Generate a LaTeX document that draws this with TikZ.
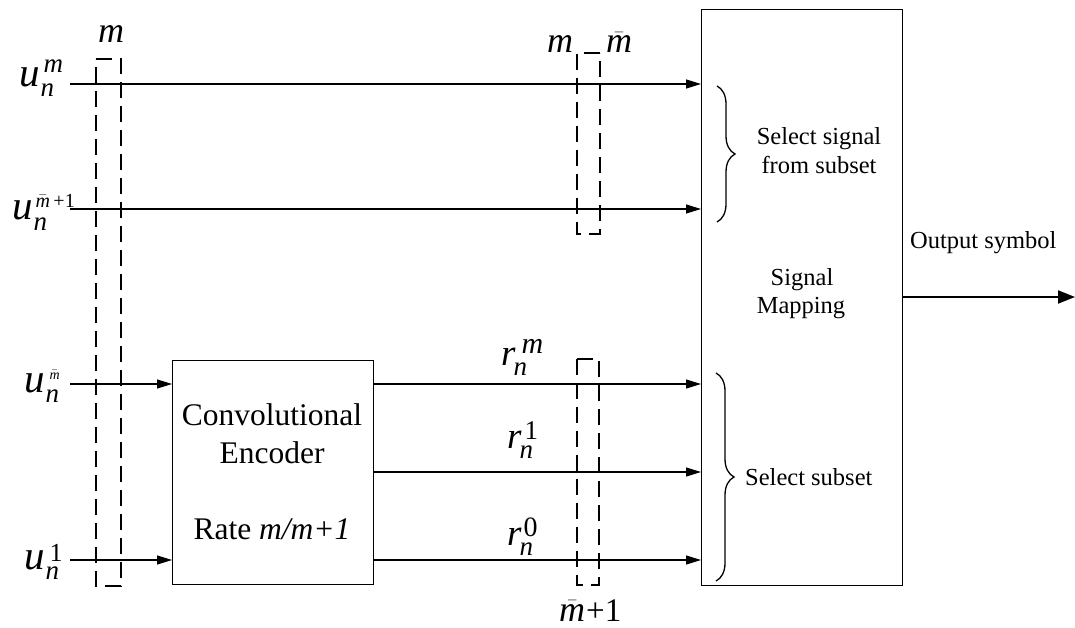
\documentclass[tikz,border=0pt]{standalone}
\usepackage{amsmath}
\usepackage{fontspec}
\setmainfont{Liberation Serif}
\usetikzlibrary{arrows.meta,decorations.pathreplacing}
\newcommand\vi[1]{\textit{#1}}
\newcommand\mbar{\bar{\vi{m}}}
% #1 base letter, #2 base size, #3 sup, #4 sup size, #5 sup raise, #6 sup shift, #7 sub kern
\newcommand\slab[7]{%
  {\fontsize{#2}{#2}\selectfont\itshape #1}\kern#7pt
  \rlap{\raisebox{-10pt}{\fontsize{27}{27}\selectfont\itshape n}}%
  \kern#6pt\raisebox{#5pt}{\fontsize{#4}{#4}\selectfont #3}}
\begin{document}
\begin{tikzpicture}[x=1pt,y=-1pt,
  mlab/.style={inner sep=0pt, font=\fontsize{36}{40}\selectfont},
  txt/.style={inner sep=0pt, font=\fontsize{24.5}{29}\selectfont},
  enctxt/.style={inner sep=0pt, font=\fontsize{31.5}{36}\selectfont},
  sig/.style={line width=1.2pt},
  arr/.style={sig, -{Triangle[length=15pt,width=9pt]}},
  outarr/.style={line width=2pt, -{Triangle[length=17pt,width=13pt]}},
  boxst/.style={draw, line width=1.2pt, inner sep=0pt, anchor=north west},
  dbox/.style={line width=2.2pt, dash pattern=on 16pt off 8pt},
  brc/.style={decorate, decoration={brace, amplitude=18pt}, line width=1.3pt}
]
\useasboundingbox (0,0) rectangle (1075,628);

% blocks
\node[boxst, minimum width=201pt, minimum height=224pt] (enc) at (172,360) {};
\node[boxst, minimum width=201pt, minimum height=576pt] (map) at (701,9) {};

% input line starts
\coordinate (a1) at (70,84);
\coordinate (a2) at (70,209);
\coordinate (a3) at (70,384);
\coordinate (a4) at (70,560);
\coordinate (mid) at (0,472);
\coordinate (out) at (1075,297);

% connectors
\draw[arr] (a1) -- (a1 -| map.west);
\draw[arr] (a2) -- (a2 -| map.west);
\draw[arr] (a3) -- (a3 -| enc.west);
\draw[arr] (a4) -- (a4 -| enc.west);
\draw[arr] (enc.east |- a3) -- (map.west |- a3);
\draw[arr] (enc.east |- mid) -- (map.west |- mid);
\draw[arr] (enc.east |- a4) -- (map.west |- a4);
\draw[outarr] (map.east |- out) -- (out);

% dashed groups
\draw[dbox] (96,59) -- (121,59) -- (121,586) -- (96,586) -- cycle;
\draw[dbox] (600,53) -- (577,53) -- (577,234) -- (600,234) -- cycle;
\draw[dbox] (577,359) -- (599,359) -- (599,585) -- (577,585) -- cycle;

% braces
\draw[brc] (717,86) -- (717,222);
\draw[brc] (716,373) -- (716,581);

% input labels
\node[inner sep=0pt, anchor=base west] (lu1) at (19,87) {\slab{u}{41}{\itshape m}{27}{14}{3}{1}};
\node[inner sep=0pt, anchor=base west] (lu2) at (12,220) {\slab{u}{41}{$\mbar$\,+1}{20}{13}{2}{1}};
\node[inner sep=0pt, anchor=base west] (lu3) at (24,392) {\slab{u}{41}{$\mbar$}{14}{13}{4}{1}};
\node[inner sep=0pt, anchor=base west] (lu4) at (24,569) {\slab{u}{41}{1}{26}{8}{4}{1}};

% group labels
\node[mlab, anchor=base] (lm) at (111,43) {$\vi{m}$};
\node[mlab, anchor=base] (lmm1) at (560,53) {$\vi{m}$};
\node[mlab, anchor=base] (lmm2) at (619,53) {$\mbar$};
\node[inner sep=0pt, anchor=base west] (lmb) at (559,621) {\fontsize{36}{40}\selectfont$\mbar$\kern1pt\fontsize{33}{34}\selectfont +1};

% encoder outputs
\node[inner sep=0pt, anchor=base west] (r1) at (501,365) {\slab{r}{37}{\itshape m}{30}{12}{8}{-2}};
\node[inner sep=0pt, anchor=base west] (r2) at (507,448) {\slab{r}{37}{1}{27}{9}{5}{-2}};
\node[inner sep=0pt, anchor=base west] (r3) at (507,545) {\slab{r}{37}{0}{28}{9}{4}{-2}};

% encoder text
\node[enctxt, anchor=base] (e1) at (272,425) {Convolutional};
\node[enctxt, anchor=base] (e2) at (272,463) {Encoder};
\node[enctxt, anchor=base] (e3) at (272,539) {Rate \textit{m/m+1}};

% mapping text
\node[txt, anchor=base] (ss1) at (819,145) {Select signal};
\node[txt, anchor=base] (ss2) at (819,174) {from subset};
\node[txt, anchor=base] (sm1) at (802,285) {Signal};
\node[txt, anchor=base] (sm2) at (801,313) {Mapping};
\node[txt, anchor=base west] (os) at (910,248) {Output symbol};
\node[txt, anchor=base west] (sub) at (745,485) {Select subset};
\end{tikzpicture}
\end{document}
